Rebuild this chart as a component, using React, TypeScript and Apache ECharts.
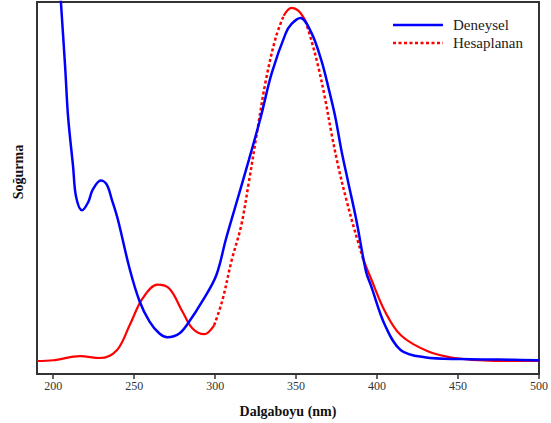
import React, { useEffect, useRef } from "react";
import * as echarts from "echarts";

// Wavelength (nm) and relative absorbance
const deneyselX = [204.0, 207.4, 209.2, 212.3, 214.1, 217.8, 221.5, 224.5, 229.4, 233.1, 236.2, 239.9, 247.2, 253.4, 259.5, 265.6, 270.5, 277.9, 284.0, 292.0, 300.6, 306.7, 313.5, 320.8, 328.2, 334.9, 343.5, 347.2, 352.7, 359.5, 365.6, 369.9, 374.2, 377.9, 382.2, 387.1, 393.2, 396.3, 404.9, 414.7, 429.4, 451.5, 475.0, 498.7, 500];
const deneyselY = [1.05, 0.824, 0.691, 0.557, 0.477, 0.44, 0.461, 0.496, 0.52, 0.509, 0.469, 0.416, 0.283, 0.195, 0.141, 0.109, 0.099, 0.109, 0.141, 0.195, 0.264, 0.363, 0.465, 0.575, 0.691, 0.808, 0.915, 0.941, 0.957, 0.917, 0.843, 0.771, 0.691, 0.603, 0.515, 0.416, 0.275, 0.237, 0.131, 0.064, 0.045, 0.04, 0.039, 0.037, 0.037];

const hesapX = [190, 200, 216.6, 228.8, 239.3, 247.2, 255.2, 264.4, 271.8, 279.8, 285.9, 293.3, 299.4, 304.3, 310.4, 316.0, 320.8, 325.8, 331.3, 337.4, 342.3, 347.2, 351.5, 355.8, 359.5, 363.8, 368.1, 371.8, 376.1, 381.0, 386.5, 391.4, 396.3, 404.9, 414.7, 431.3, 447.8, 472.4, 500];
const hesapY = [0.035, 0.037, 0.048, 0.043, 0.064, 0.131, 0.203, 0.24, 0.229, 0.168, 0.123, 0.107, 0.131, 0.195, 0.309, 0.397, 0.515, 0.648, 0.789, 0.904, 0.963, 0.984, 0.976, 0.949, 0.896, 0.824, 0.736, 0.648, 0.557, 0.469, 0.381, 0.309, 0.256, 0.168, 0.104, 0.061, 0.043, 0.035, 0.035];

// Where the calculated curve is drawn dotted (steep parts)
const dottedRanges: [number, number][] = [[299.4, 342.3], [355.8, 391.4]];
const solidRanges: [number, number][] = [[190, 299.4], [342.3, 355.8], [391.4, 500]];

const xTicks = [200, 250, 300, 350, 400, 450, 500];
const legendNames = ["Deneysel", "Hesaplanan"];

const serif = "Liberation Serif";

function pick(xs: number[], ys: number[], a: number, b: number) {
  const out: [number, number][] = [];
  xs.forEach((x, i) => {
    if (x >= a - 1e-6 && x <= b + 1e-6) out.push([x, ys[i]]);
  });
  return out;
}

export default function App() {
  const ref = useRef<HTMLDivElement>(null);
  useEffect(() => {
    if (!ref.current) return;
    const chart = echarts.init(ref.current, undefined, { renderer: "svg" });
    const series: any[] = [
      {
        name: legendNames[0],
        type: "line",
        data: deneyselX.map((x, i) => [x, deneyselY[i]]),
        smooth: 0.35,
        showSymbol: false,
        lineStyle: { color: "#0000ff", width: 2.5 },
        itemStyle: { color: "#0000ff" },
        z: 3,
      },
    ];
    dottedRanges.forEach((r, k) => {
      series.push({
        name: legendNames[1] + "-d" + k,
        type: "line",
        data: pick(hesapX, hesapY, r[0], r[1]),
        smooth: 0.35,
        showSymbol: false,
        lineStyle: { color: "#ff0000", width: 2.5, type: [3, 2.5] },
        itemStyle: { color: "#ff0000" },
        z: 2,
      });
    });
    solidRanges.forEach((r, k) => {
      series.push({
        name: legendNames[1] + "-s" + k,
        type: "line",
        data: pick(hesapX, hesapY, r[0], r[1]),
        smooth: 0.35,
        showSymbol: false,
        lineStyle: { color: "#ff0000", width: 2.2 },
        itemStyle: { color: "#ff0000" },
        z: 2,
      });
    });

    chart.setOption({
      animation: false,
      backgroundColor: "#ffffff",
      textStyle: { fontFamily: serif },
      grid: {
        left: 37,
        right: 9,
        top: 2,
        bottom: 47,
        show: true,
        borderColor: "#333333",
        borderWidth: 2,
        backgroundColor: "transparent",
      },
      xAxis: {
        type: "value",
        min: 190,
        max: 500,
        name: "Dalgaboyu (nm)",
        nameLocation: "middle",
        nameGap: 30,
        nameTextStyle: { fontFamily: serif, fontSize: 14, fontWeight: "bold", color: "#111" },
        axisLine: { show: true, lineStyle: { color: "#333", width: 2 } },
        axisTick: { show: true, length: 5, lineStyle: { color: "#333", width: 1.5 }, customValues: xTicks },
        axisLabel: { fontFamily: serif, fontSize: 12, color: "#333", margin: 6, customValues: xTicks },
        splitLine: { show: false },
      },
      yAxis: {
        type: "value",
        min: 0,
        max: 1,
        axisLine: { show: true, lineStyle: { color: "#333", width: 2 } },
        axisTick: { show: false },
        axisLabel: { show: false },
        splitLine: { show: false },
      },
      graphic: [
        {
          type: "text",
          x: 18,
          y: 172,
          rotation: Math.PI / 2,
          style: {
            text: "Soğurma",
            fontFamily: serif,
            fontSize: 14,
            fontWeight: "bold",
            fill: "#111",
            align: "center",
            verticalAlign: "middle",
          },
        },
        {
          type: "line",
          shape: { x1: 393, y1: 25, x2: 443, y2: 25 },
          style: { stroke: "#0000ff", lineWidth: 2.5 },
        },
        {
          type: "text",
          x: 453,
          y: 25,
          style: { text: legendNames[0], fontFamily: serif, fontSize: 15, fill: "#222", verticalAlign: "middle" },
        },
        {
          type: "line",
          shape: { x1: 393, y1: 43, x2: 443, y2: 43 },
          style: { stroke: "#ff0000", lineWidth: 2.5, lineDash: [3, 2.5] },
        },
        {
          type: "text",
          x: 453,
          y: 43,
          style: { text: legendNames[1], fontFamily: serif, fontSize: 15, fill: "#222", verticalAlign: "middle" },
        },
      ],
      series,
    });
    return () => chart.dispose();
  }, []);
  return (
    <div
      ref={ref}
      style={{ position: "fixed", left: 0, top: 0, width: 551, height: 423, background: "#fff" }}
    />
  );
}
